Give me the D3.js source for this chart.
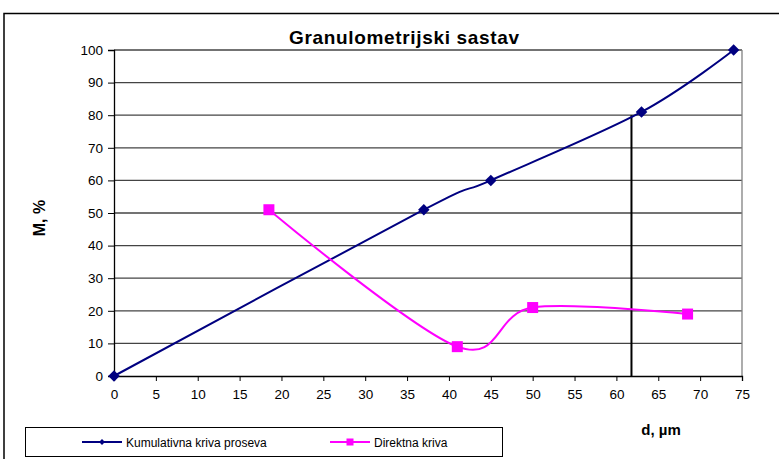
<!DOCTYPE html>
<html lang="en">
<head>
<meta charset="utf-8">
<title>Granulometrijski sastav</title>
<script src="https://d3js.org/d3.v7.min.js"></script>
<style>
  body { margin: 0; background: #fff; }
  text { font-family: "Liberation Sans", Arial, sans-serif; }
</style>
</head>
<body>
<svg id="chart" width="779" height="459"></svg>
<script>
// data
var xTicks = [0, 5, 10, 15, 20, 25, 30, 35, 40, 45, 50, 55, 60, 65, 70, 75];
var yTicks = [0, 10, 20, 30, 40, 50, 60, 70, 80, 90, 100];
var kumulX = [0, 37, 45, 63, 74];
var kumulY = [0, 51, 60, 81, 100];
var direktX = [18.5, 41, 50, 68.5];
var direktY = [51, 9, 21, 19];
var markerD = [61.8, 80]; // vertical line at d80

var svg = d3.select("#chart");

// outer frame (top + left visible)
svg.append("path").attr("d", "M4,459 V13.5 H779").attr("fill", "none")
    .attr("stroke", "#000").attr("stroke-width", 1.5);

var x = d3.scaleLinear().domain([0, 75]).range([114, 742]);
var y = d3.scaleLinear().domain([0, 100]).range([376, 50]);

// gridlines
svg.append("g").selectAll("line").data(yTicks.slice(1)).enter().append("line")
    .attr("x1", x(0)).attr("x2", x(75))
    .attr("y1", function (d) { return y(d); }).attr("y2", function (d) { return y(d); })
    .attr("stroke", "#444").attr("stroke-width", 1.3);

// plot right border
svg.append("line").attr("x1", x(75)).attr("x2", x(75)).attr("y1", y(100)).attr("y2", y(0))
    .attr("stroke", "#808080").attr("stroke-width", 1.3);

// axes
var xAxis = svg.append("g").attr("transform", "translate(0," + y(0) + ")")
    .call(d3.axisBottom(x).tickValues(xTicks).tickSize(5).tickPadding(8));
var yAxis = svg.append("g").attr("transform", "translate(" + x(0) + ",0)")
    .call(d3.axisLeft(y).tickValues(yTicks).tickSize(6).tickPadding(5));
[xAxis, yAxis].forEach(function (a) {
    a.attr("font-size", null).attr("font-family", null);
    a.select(".domain").attr("stroke", "#000").attr("stroke-width", 1.3);
    a.selectAll(".tick line").attr("stroke", "#000");
    a.selectAll("text").style("font-size", "13.5px").attr("fill", "#000")
        .style("font-family", "'Liberation Sans', Arial, sans-serif");
});

// vertical d80 line
svg.append("line").attr("x1", x(markerD[0])).attr("x2", x(markerD[0]))
    .attr("y1", y(0)).attr("y2", y(markerD[1]))
    .attr("stroke", "#000").attr("stroke-width", 2);

var kumul = kumulX.map(function (d, i) { return [d, kumulY[i]]; });
var direkt = direktX.map(function (d, i) { return [d, direktY[i]]; });

var line = d3.line()
    .x(function (d) { return x(d[0]); })
    .y(function (d) { return y(d[1]); })
    .curve(d3.curveCardinal.tension(0));

svg.append("path").datum(kumul).attr("d", line)
    .attr("fill", "none").attr("stroke", "#000080").attr("stroke-width", 2);
svg.append("path").datum(direkt).attr("d", line)
    .attr("fill", "none").attr("stroke", "#ff00ff").attr("stroke-width", 2);

var diamond = d3.symbol().type(d3.symbolDiamond2).size(85);
svg.append("g").selectAll("path").data(kumul).enter().append("path")
    .attr("d", diamond)
    .attr("transform", function (d) { return "translate(" + x(d[0]) + "," + y(d[1]) + ")"; })
    .attr("fill", "#000080");

svg.append("g").selectAll("rect").data(direkt).enter().append("rect")
    .attr("x", function (d) { return x(d[0]) - 5.5; })
    .attr("y", function (d) { return y(d[1]) - 5.5; })
    .attr("width", 11).attr("height", 11)
    .attr("fill", "#ff00ff");

// titles
svg.append("text").attr("x", 404).attr("y", 44).attr("text-anchor", "middle")
    .attr("font-size", 19).attr("font-weight", "bold")
    .attr("textLength", 230).attr("lengthAdjust", "spacing")
    .text("Granulometrijski sastav");
svg.append("text").attr("x", 661).attr("y", 435).attr("text-anchor", "middle")
    .attr("font-size", 15).attr("font-weight", "bold").text("d, µm");
svg.append("text").attr("transform", "translate(45,218) rotate(-90)")
    .attr("text-anchor", "middle").attr("font-size", 16).attr("font-weight", "bold").text("M, %");

// legend
var lg = svg.append("g");
lg.append("rect").attr("x", 25.5).attr("y", 427.5).attr("width", 477).attr("height", 29)
    .attr("fill", "#fff").attr("stroke", "#000").attr("stroke-width", 1);
lg.append("line").attr("x1", 82).attr("x2", 122).attr("y1", 442).attr("y2", 442)
    .attr("stroke", "#000080").attr("stroke-width", 2);
lg.append("path").attr("d", d3.symbol().type(d3.symbolDiamond2).size(22))
    .attr("transform", "translate(102,442)").attr("fill", "#000080");
lg.append("text").attr("x", 126).attr("y", 446.5).attr("font-size", 12)
    .text("Kumulativna kriva proseva");
lg.append("line").attr("x1", 330).attr("x2", 370).attr("y1", 442).attr("y2", 442)
    .attr("stroke", "#ff00ff").attr("stroke-width", 2);
lg.append("rect").attr("x", 346.5).attr("y", 438.5).attr("width", 7).attr("height", 7)
    .attr("fill", "#ff00ff");
lg.append("text").attr("x", 374).attr("y", 446.5).attr("font-size", 12)
    .text("Direktna kriva");
</script>
</body>
</html>
